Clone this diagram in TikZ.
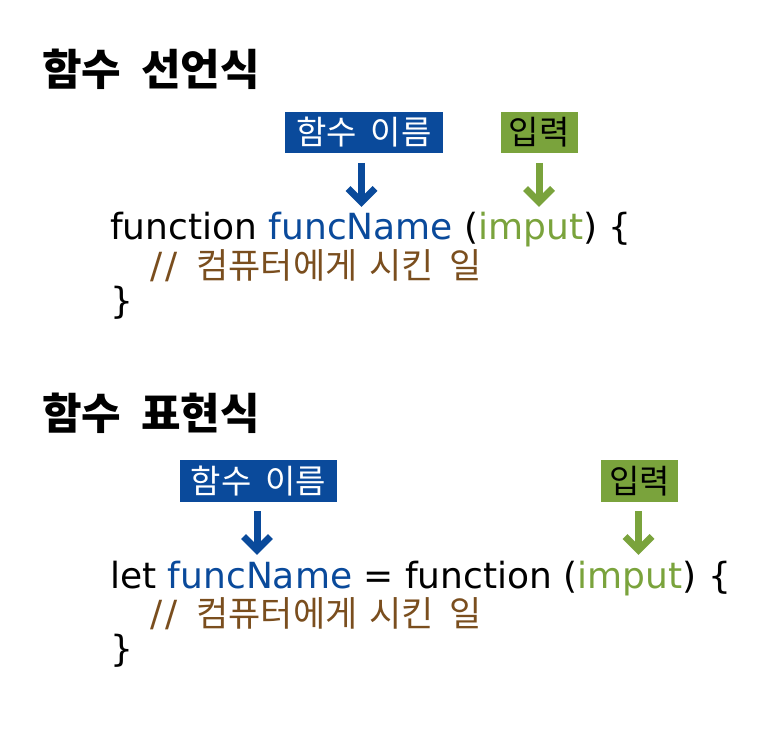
\documentclass[tikz,border=0pt]{standalone}
\usepackage{fontspec}
\newfontfamily\codefont{DejaVu Sans}
\newfontfamily\krfont{Noto Sans CJK KR}
\IfFontExistsTF{Noto Sans CJK KR Black}
  {\newfontfamily\krtitle{Noto Sans CJK KR Black}}
  {\newfontfamily\krtitle{Noto Sans CJK KR}[UprightFont={* Bold},FakeBold=1.5]}
\definecolor{fnblue}{RGB}{10,74,155}
\definecolor{ingreen}{RGB}{122,163,60}
\definecolor{cmtbrown}{RGB}{122,78,30}
\tikzset{
  titletext/.style={anchor=base west,inner sep=0pt,font=\krtitle\fontsize{43}{47}\selectfont},
  codetext/.style={anchor=base west,inner sep=0pt,font=\codefont\fontsize{36}{40}\selectfont},
  cmttext/.style={anchor=base west,inner sep=0pt,text=cmtbrown},
  namebox/.style={fill=fnblue,text=white,inner sep=0pt,minimum width=158pt,minimum height=41pt,font=\krfont\fontsize{33}{36}\selectfont},
  inbox/.style={fill=ingreen,text=black,inner sep=0pt,minimum width=77pt,minimum height=41pt,font=\krfont\fontsize{33}{36}\selectfont},
  arrowshaft/.style={line width=7pt},
  arrowhead/.style={line width=7pt,miter limit=10}
}
\begin{document}
\begin{tikzpicture}[x=1pt,y=-1pt]
\useasboundingbox (0,0) rectangle (770,743);
% ---------- section 1 ----------
\node[titletext] (t1) at (42,86) {함수\hspace{20pt}선언식};
\node[namebox] (nb1) at (364,132.5) {함수\hspace{14pt}이름};
\node[inbox] (ib1) at (539,132.5) {입력};
\node[codetext] (c1) at (110,240) {function \textcolor{fnblue}{funcName} (\textcolor{ingreen}{imput}) \{};
\node[cmttext] (m1) at (150,278) {{\codefont\fontsize{36}{40}\selectfont /\hspace{3pt}/}\hspace{19pt}{\krfont\fontsize{35}{38}\selectfont 컴퓨터에게\hspace{12pt}시킨\hspace{16pt}일}};
\node[codetext] (e1) at (110,313) {\}};
% arrows section 1
\coordinate (a1s) at (361.5,163);
\coordinate (a1t) at (361.5,202);
\coordinate (g1s) at (539,163);
\coordinate (g1t) at (539,202);
\draw[arrowshaft,fnblue] (a1s) -- (a1t);
\draw[arrowhead,fnblue] ([shift={(-13.5,-13.5)}]a1t) -- (a1t) -- ([shift={(13.5,-13.5)}]a1t);
\draw[arrowshaft,ingreen] (g1s) -- (g1t);
\draw[arrowhead,ingreen] ([shift={(-13.5,-13.5)}]g1t) -- (g1t) -- ([shift={(13.5,-13.5)}]g1t);
% ---------- section 2 ----------
\node[titletext] (t2) at (42,429) {함수\hspace{20pt}표현식};
\node[namebox,minimum width=157pt,minimum height=42pt] (nb2) at (258.5,481) {함수\hspace{14pt}이름};
\node[inbox,minimum height=42pt] (ib2) at (639.5,481) {입력};
\node[codetext] (c2) at (110,588) {let \textcolor{fnblue}{funcName} = function (\textcolor{ingreen}{imput}) \{};
\node[cmttext] (m2) at (150,626) {{\codefont\fontsize{36}{40}\selectfont /\hspace{3pt}/}\hspace{19pt}{\krfont\fontsize{35}{38}\selectfont 컴퓨터에게\hspace{12pt}시킨\hspace{16pt}일}};
\node[codetext] (e2) at (110,661) {\}};
% arrows section 2
\coordinate (a2s) at (257,511);
\coordinate (a2t) at (257,550);
\coordinate (g2s) at (638.5,511);
\coordinate (g2t) at (638.5,550);
\draw[arrowshaft,fnblue] (a2s) -- (a2t);
\draw[arrowhead,fnblue] ([shift={(-13.5,-13.5)}]a2t) -- (a2t) -- ([shift={(13.5,-13.5)}]a2t);
\draw[arrowshaft,ingreen] (g2s) -- (g2t);
\draw[arrowhead,ingreen] ([shift={(-13.5,-13.5)}]g2t) -- (g2t) -- ([shift={(13.5,-13.5)}]g2t);
\end{tikzpicture}
\end{document}
